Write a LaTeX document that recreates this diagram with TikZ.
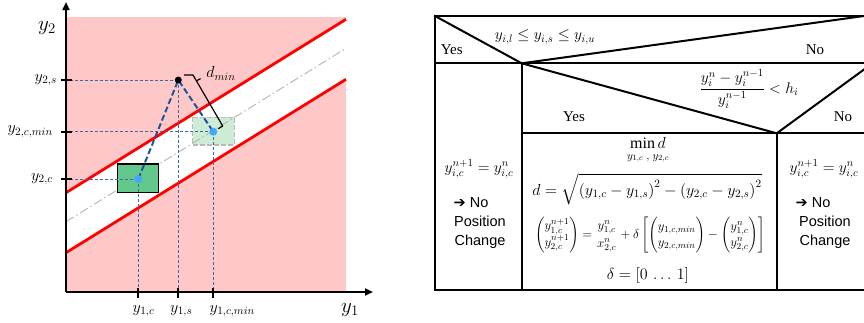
\RequirePackage{fix-cm}
\documentclass[tikz,border=0pt]{standalone}
\usepackage{amsmath}
\usepackage{fontspec}
\setmainfont{Liberation Serif}
\newfontfamily\arialf{Liberation Sans}
\newfontfamily\dejavuf{DejaVu Sans}
\usetikzlibrary{arrows.meta}
\definecolor{pinkbg}{RGB}{255,200,200}
\definecolor{guideblue}{RGB}{60,105,170}
\definecolor{linkblue}{RGB}{30,85,155}
\definecolor{dotblue}{RGB}{70,165,255}
\definecolor{darkgreen}{RGB}{98,200,140}
\definecolor{lightgreen}{RGB}{205,236,214}
\definecolor{dashgray}{RGB}{185,185,185}
\begin{document}
\begin{tikzpicture}[x=1pt,y=-1pt,
  axisline/.style={line width=2pt,-{Triangle[length=8pt,width=7pt]}},
  tickline/.style={line width=2pt},
  redline/.style={red,line width=2.8pt},
  guide/.style={draw=guideblue,line width=0.8pt,dash pattern=on 3pt off 2pt},
  link/.style={draw=linkblue,line width=2pt,dash pattern=on 6pt off 3pt},
  bluedot/.style={circle,fill=dotblue,inner sep=0pt,minimum size=8pt},
  blackdot/.style={circle,fill=black,inner sep=0pt,minimum size=7pt},
  lbl/.style={inner sep=0pt,font=\fontsize{16}{18}\selectfont},
  biglbl/.style={inner sep=0pt,font=\fontsize{21}{24}\selectfont},
  tab/.style={line width=2pt,line cap=rect},
  tabtxt/.style={inner sep=0pt,font=\fontsize{15}{17}\selectfont},
  sanstxt/.style={inner sep=0pt,font=\arialf\fontsize{14.5}{19}\selectfont,align=center},
  mathtxt/.style={inner sep=0pt,font=\fontsize{15.5}{17}\selectfont},
  cellmath/.style={inner sep=0pt,font=\fontsize{13}{16}\selectfont},
  cellbig/.style={inner sep=0pt,font=\fontsize{16}{18}\selectfont}
]
\useasboundingbox (0,0) rectangle (864,322);

% ---------------- left plot ----------------
\coordinate (O) at (66,292);
\coordinate (ytop) at (66,2);
\coordinate (xend) at (373,292);
\fill[pinkbg] (66,16.7) rectangle (346,292);
\coordinate (ua) at (66,192.7);
\coordinate (ub) at (346,19.3);
\coordinate (la) at (66,252.7);
\coordinate (lb) at (346,79.3);
\fill[white] (ua) -- (ub) -- (lb) -- (la) -- cycle;
\fill[lightgreen] (192.7,117.3) rectangle (234.3,145);
\draw[dashgray,line width=1.5pt,dash pattern=on 5pt off 2pt] (192.7,117.3) rectangle (234.3,145);
\coordinate (ma) at (66,221.7);
\coordinate (mb) at (346,48.3);
\draw[dashgray,line width=1pt,dash pattern=on 9pt off 3pt on 1.5pt off 3pt] (ma) -- (mb);
\draw[redline] (ua) -- (ub);
\draw[redline] (la) -- (lb);
\draw[fill=darkgreen,line width=1.5pt] (117.3,164) rectangle (158.3,192.7);

\coordinate (s) at (178.3,80);
\coordinate (c) at (138.3,179);
\coordinate (m) at (213.3,131.7);

\foreach \p in {s,c,m}{
  \draw[guide] (\p) -- (\p -| O);
  \draw[guide] (\p) -- (\p |- O);
}
\draw[link] (c) -- (s) -- (m);
\node[blackdot] (sdot) at (s) {};
\node[bluedot] (cdot) at (c) {};
\node[bluedot] (mdot) at (m) {};

% bracket d_min
\coordinate (b1) at (184,75);
\coordinate (b2) at (193,75);
\coordinate (b3) at (222.7,126);
\coordinate (b4) at (218.3,128.7);
\coordinate (bt1) at (196.6,80.8);
\coordinate (bt2) at (200.6,78.6);
\draw[line width=1.2pt,line join=round] (b1) -- (b2) -- (b3) -- (b4);
\draw[line width=1.2pt] (bt1) -- (bt2);
\node[lbl] (dmin) at (221,73.5) {$d_{min}$};

% axes
\draw[axisline] (O) -- (ytop);
\draw[axisline] (O) -- (xend);
\foreach \p in {s,c,m}{
  \draw[tickline] ([xshift=-5pt]\p -| O) -- ([xshift=6pt]\p -| O);
  \draw[tickline] ([yshift=4pt]\p |- O) -- ([yshift=-6pt]\p |- O);
}
\node[biglbl] (ylab2) at (47,28) {$y_2$};
\node[biglbl] (ylab1) at (350,310) {$y_1$};
\node[lbl,anchor=east] (l2s) at (57,80) {$y_{2,s}$};
\node[lbl,anchor=east] (l2cm) at (53,131.7) {$y_{2,c,min}$};
\node[lbl,anchor=east] (l2c) at (53,179) {$y_{2,c}$};
\node[lbl,anchor=west] (l1c) at (132.5,311) {$y_{1,c}$};
\node[lbl,anchor=west] (l1s) at (170,311) {$y_{1,s}$};
\node[lbl,anchor=west] (l1cm) at (209.5,311) {$y_{1,c,min}$};

% ---------------- right table ----------------
\coordinate (TL) at (435,16);
\coordinate (TR) at (872,16);
\coordinate (BL) at (435,290);
\coordinate (BR) at (872,290);
\coordinate (R1L) at (435,63.3);
\coordinate (R1R) at (872,63.3);
\coordinate (P1) at (521.7,63.3);
\coordinate (P2) at (776.7,133.3);
\coordinate (R2R) at (872,133.3);
\coordinate (D1) at (864,16);
\coordinate (D2) at (872.5,63.3);
\draw[tab] (TL) -- (TR);
\draw[tab] (TL) -- (BL) -- (BR);
\draw[tab] (R1L) -- (R1R);
\draw[tab] (P1) -- (P1 |- BL);
\draw[tab] (P1 |- P2) -- (R2R);
\draw[tab] (P2) -- (P2 |- BL);
\draw[tab] (TL) -- (P1) -- (D1);
\draw[tab] (P1) -- (P2) -- (D2);

\node[tabtxt] (yes1) at (451.7,50) {Yes};
\node[tabtxt] (no1) at (815,50) {No};
\node[mathtxt] (cond1) at (545,37) {$y_{i,l}\le y_{i,s}\le y_{i,u}$};
\node[mathtxt] (cond2) at (749,89) {$\dfrac{y_i^n-y_i^{n-1}}{y_i^{n-1}}<h_i$};
\node[tabtxt] (yes2) at (574,117) {Yes};
\node[tabtxt] (no2) at (843,117) {No};

\node[mathtxt] (eqL) at (479,169) {$y_{i,c}^{n+1}=y_{i,c}^{n}$};
\node[sanstxt] (arrL) at (471,203) {{\dejavuf\char"2794} No};
\node[sanstxt] (pcL) at (480,232) {Position\\Change};
\node[mathtxt] (eqR) at (824,169) {$y_{i,c}^{n+1}=y_{i,c}^{n}$};
\node[sanstxt] (arrR) at (813,203) {{\dejavuf\char"2794} No};
\node[sanstxt] (pcR) at (825,232) {Position\\Change};

\node[cellbig] (mind) at (648,151) {$\underset{y_{1,c}\;,\;y_{2,c}}{\min d}$};
\node[cellbig] (dist) at (647,189) {$d=\sqrt{\left(y_{1,c}-y_{1,s}\right)^2-\left(y_{2,c}-y_{2,s}\right)^2}$};
\node[cellmath] (upd) at (650,235) {$\begin{pmatrix}y_{1,c}^{n+1}\\ y_{2,c}^{n+1}\end{pmatrix}=\genfrac{}{}{0pt}{0}{y_{1,c}^{n}}{x_{2,c}^{n}}+\delta\left[\begin{pmatrix}y_{1,c,min}\\ y_{2,c,min}\end{pmatrix}-\begin{pmatrix}y_{1,c}^{n}\\ y_{2,c}^{n}\end{pmatrix}\right]$};
\node[cellbig] (delta) at (648,275) {$\delta=[0\,\ldots\,1]$};
\end{tikzpicture}
\end{document}
